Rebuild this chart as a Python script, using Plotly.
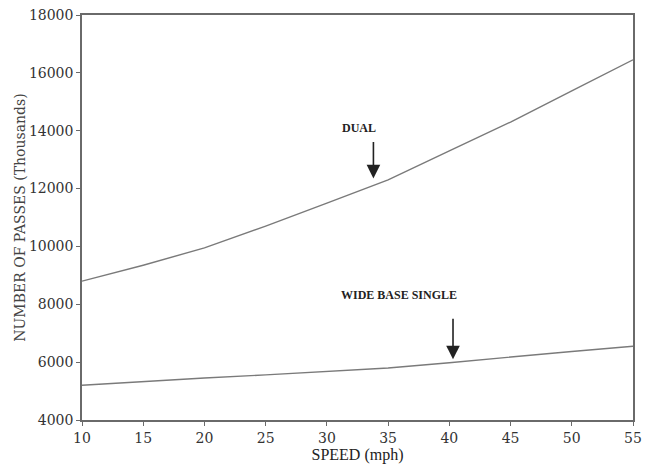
import plotly.graph_objects as go

speed = [10, 15, 20, 25, 30, 35, 40, 45, 50, 55]
dual = [8800, 9350, 9950, 10700, 11500, 12300, 13300, 14300, 15380, 16450]
wide_base_single = [5200, 5330, 5450, 5560, 5680, 5800, 5980, 6180, 6370, 6550]

x_ticks = [10, 15, 20, 25, 30, 35, 40, 45, 50, 55]
y_ticks = [4000, 6000, 8000, 10000, 12000, 14000, 16000, 18000]
y_tick_labels = ["4000", "6000", "8000", "10000", "12000", "14000", "16000", "18000"]

line_color = "#7a7a7a"
axis_color = "#6a6a6a"
tick_family = "DejaVu Serif, serif"
title_family = "Liberation Serif, DejaVu Serif, serif"

fig = go.Figure()
fig.add_trace(go.Scatter(x=speed, y=dual, mode="lines", name="DUAL",
                         line=dict(color=line_color, width=1.4), showlegend=False))
fig.add_trace(go.Scatter(x=speed, y=wide_base_single, mode="lines", name="WIDE BASE SINGLE",
                         line=dict(color=line_color, width=1.4), showlegend=False))

# arrows
fig.add_annotation(x=33.8, y=12350, ax=0, ay=-38, text="", showarrow=True,
                   arrowhead=2, arrowsize=1.7, arrowwidth=1.6, arrowcolor="#222")
fig.add_annotation(x=40.3, y=6100, ax=0, ay=-42, text="", showarrow=True,
                   arrowhead=2, arrowsize=1.7, arrowwidth=1.6, arrowcolor="#222")
# labels
fig.add_annotation(x=32.6, y=14100, text="<b>DUAL</b>", showarrow=False,
                   font=dict(family=title_family, size=12, color="#222"))
fig.add_annotation(x=35.9, y=8320, text="<b>WIDE BASE SINGLE</b>", showarrow=False,
                   font=dict(family=title_family, size=12, color="#222"))

fig.update_xaxes(range=[10, 55], tickvals=x_ticks, ticks="outside", ticklen=4,
                 tickcolor=axis_color, showline=True, linecolor=axis_color, linewidth=1.5,
                 mirror=True, showgrid=False, zeroline=False, automargin=False,
                 tickfont=dict(family=tick_family, size=14, color="#333"),
                 title=dict(text="SPEED (mph)", standoff=2,
                            font=dict(family=title_family, size=16, color="#222")))
fig.update_yaxes(range=[4000, 18000], tickvals=y_ticks, ticktext=y_tick_labels,
                 ticks="outside", ticklen=4,
                 tickcolor=axis_color, showline=True, linecolor=axis_color, linewidth=1.5,
                 mirror=True, showgrid=False, zeroline=False, automargin=False,
                 tickfont=dict(family=tick_family, size=14, color="#333"),
                 title=dict(text="NUMBER OF PASSES (Thousands)", standoff=0,
                            font=dict(family=tick_family, size=14, color="#444")))

fig.update_layout(width=648, height=468, margin=dict(l=82, r=15, t=15, b=48),
                  paper_bgcolor="white", plot_bgcolor="white")

fig.write_html("out.html")
